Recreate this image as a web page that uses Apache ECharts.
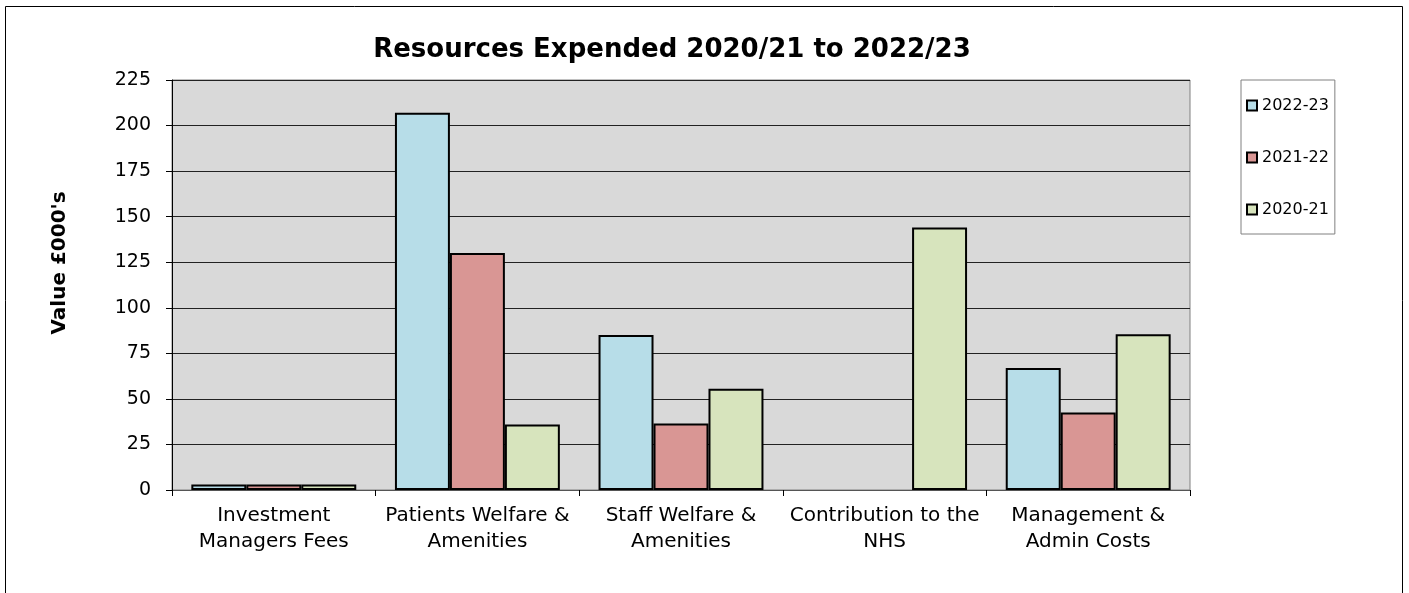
<!DOCTYPE html>
<html>
<head>
<meta charset="utf-8">
<script src="https://cdn.jsdelivr.net/npm/echarts@6/dist/echarts.min.js"></script>
<style>
  html, body { margin: 0; padding: 0; background: #fff; }
  #chart { width: 1409px; height: 593px; }
</style>
</head>
<body>
<div id="chart"></div>
<script>
const categories = [
  'Investment\nManagers Fees',
  'Patients Welfare &\nAmenities',
  'Staff Welfare &\nAmenities',
  'Contribution to the\nNHS',
  'Management &\nAdmin Costs'
]
const seriesNames = ['2022-23', '2021-22', '2020-21']
// null = no spend recorded for that year
const values2223 = [3, 207, 85, null, 67]
const values2122 = [3, 130, 36.5, null, 42.5]
const values2021 = [3, 36, 55.5, 144, 85.5]
const colors = ['#B7DDE8', '#D99694', '#D7E4BD']

const chart = echarts.init(document.getElementById('chart'))
const font = 'DejaVu Sans, Arial, sans-serif'

const makeSeries = (name, data, color) => ({
  name: name,
  type: 'bar',
  barGap: '0%',
  barCategoryGap: '19%',
  itemStyle: { color: color, borderColor: '#000', borderWidth: 2 },
  emphasis: { disabled: true },
  data: data,
})

const option = {
  animation: false,
  textStyle: { fontFamily: font },
  title: {
    text: 'Resources Expended 2020/21 to 2022/23',
    left: 667,
    textAlign: 'center',
    top: 32,
    textStyle: { fontSize: 26, fontWeight: 'bold', color: '#000', fontFamily: font },
  },
  legend: {
    orient: 'vertical',
    left: 1241,
    top: 80,
    padding: [17, 6, 16, 5],
    itemGap: 35,
    itemWidth: 10,
    itemHeight: 10,
    borderColor: '#808080',
    borderWidth: 1,
    icon: 'rect',
    data: seriesNames,
    textStyle: { fontSize: 16, lineHeight: 17, color: '#000', fontFamily: font },
  },
  graphic: [
    {
      type: 'rect',
      shape: { x: 5.5, y: 6.5, width: 1397, height: 620 },
      style: { fill: 'none', stroke: '#000', lineWidth: 1 },
      silent: true,
    },
  ],
  grid: {
    left: 172,
    right: 219,
    top: 80,
    bottom: 103,
    show: true,
    backgroundColor: '#D9D9D9',
    borderColor: '#808080',
    borderWidth: 1,
    containLabel: false,
  },
  xAxis: {
    type: 'category',
    data: categories,
    axisLine: { lineStyle: { color: '#555', width: 1 } },
    axisTick: { show: true, length: 6, lineStyle: { color: '#000' } },
    axisLabel: { color: '#000', fontSize: 20, lineHeight: 26, margin: 13, interval: 0, fontFamily: font },
  },
  yAxis: {
    type: 'value',
    min: 0,
    max: 225,
    interval: 25,
    name: "Value £000's",
    nameLocation: 'middle',
    nameRotate: 90,
    nameGap: 102,
    nameTextStyle: { fontSize: 20, fontWeight: 'bold', color: '#000', fontFamily: font, padding: [0, 0, 0, 44] },
    axisLine: { show: true, lineStyle: { color: '#000', width: 1 } },
    axisTick: { show: true, length: 6, lineStyle: { color: '#000' } },
    axisLabel: { color: '#000', fontSize: 19, margin: 21, fontFamily: font },
    splitLine: { show: true, lineStyle: { color: '#222', width: 1 } },
  },
  series: [
    makeSeries(seriesNames[0], values2223, colors[0]),
    makeSeries(seriesNames[1], values2122, colors[1]),
    makeSeries(seriesNames[2], values2021, colors[2]),
  ],
}

chart.setOption(option)
</script>
</body>
</html>
